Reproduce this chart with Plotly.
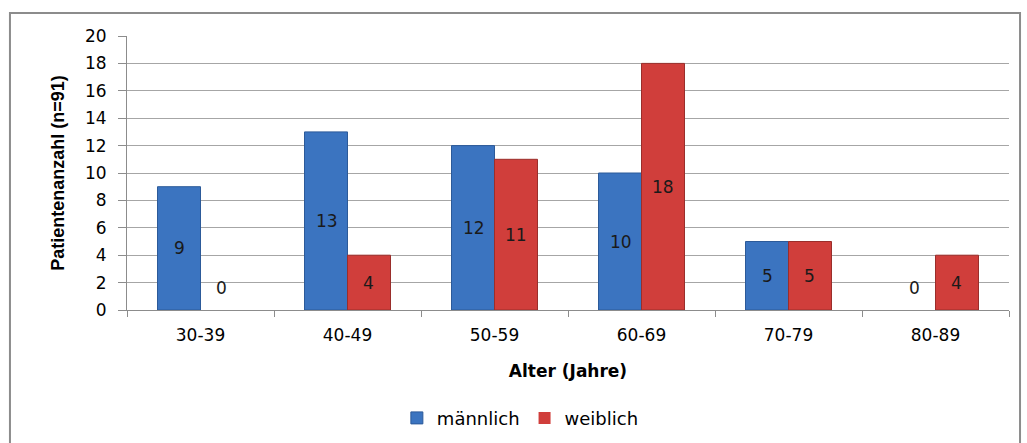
import plotly.graph_objects as go

altersgruppen = ["30-39", "40-49", "50-59", "60-69", "70-79", "80-89"]
maennlich = [9, 13, 12, 10, 5, 0]
weiblich = [0, 4, 11, 18, 5, 4]
y_ticks = list(range(0, 21, 2))

font_main = "DejaVu Sans"
blue = "#3b74c0"
red = "#d03e3b"


def kanten(werte):
    # no outline on empty bars, otherwise a stray line shows on the axis
    return [1 if w > 0 else 0 for w in werte]


fig = go.Figure()
fig.add_trace(go.Bar(x=altersgruppen, y=maennlich, name="männlich",
                     marker=dict(color=blue, line=dict(color="#2c5a99", width=kanten(maennlich)))))
fig.add_trace(go.Bar(x=altersgruppen, y=weiblich, name="weiblich",
                     marker=dict(color=red, line=dict(color="#9a2e2b", width=kanten(weiblich)))))

# value labels in the middle of the bars (zero values sit just above the axis)
for serie, shift in ((maennlich, -21), (weiblich, 21)):
    for kat, wert in zip(altersgruppen, serie):
        fig.add_annotation(x=kat, y=wert / 2 if wert > 0 else 1.6, xref="x", yref="y",
                           text=str(wert), showarrow=False, xshift=shift,
                           font=dict(family=font_main, size=17, color="#1a1a1a"))

fig.add_annotation(x=-0.092, y=0.5, xref="paper", yref="paper",
                   text="<b>Patientenanzahl (n=91)</b>", textangle=-90, showarrow=False,
                   font=dict(family="Liberation Sans", size=18, color="black"))

fig.add_shape(type="rect", xref="paper", yref="paper",
              x0=-0.1327, x1=1.0125, y0=-0.6, y1=1.084,
              line=dict(color="#8c8c8c", width=2))

fig.update_layout(
    width=1027, height=443,
    margin=dict(l=127, r=18, t=36, b=133, autoexpand=False),
    paper_bgcolor="white", plot_bgcolor="white",
    barmode="group", bargap=0.415, bargroupgap=0,
    font=dict(family=font_main, size=17, color="black"),
    legend=dict(orientation="h", x=0.446, y=0.056, xref="paper", yref="container",
                xanchor="center", yanchor="middle",
                font=dict(family=font_main, size=18), itemwidth=30),
    xaxis=dict(
        title=dict(text="<b>Alter (Jahre)</b>", standoff=20,
                   font=dict(family=font_main, size=17)),
        showline=True, linecolor="#8c8c8c", ticks="outside", tickson="boundaries",
        ticklen=6, tickcolor="#8c8c8c", tickfont=dict(size=17), ticklabelstandoff=10,
    ),
    yaxis=dict(
        range=[0, 20], tickvals=y_ticks, showgrid=True, gridcolor="#a6a6a6",
        showline=True, linecolor="#8c8c8c", ticks="outside", ticklen=8,
        tickcolor="#8c8c8c", tickfont=dict(size=17), zeroline=False, ticklabelstandoff=8,
    ),
)

fig.write_html("out.html", config={"displayModeBar": False},
               post_script="document.body.style.margin='0';")
